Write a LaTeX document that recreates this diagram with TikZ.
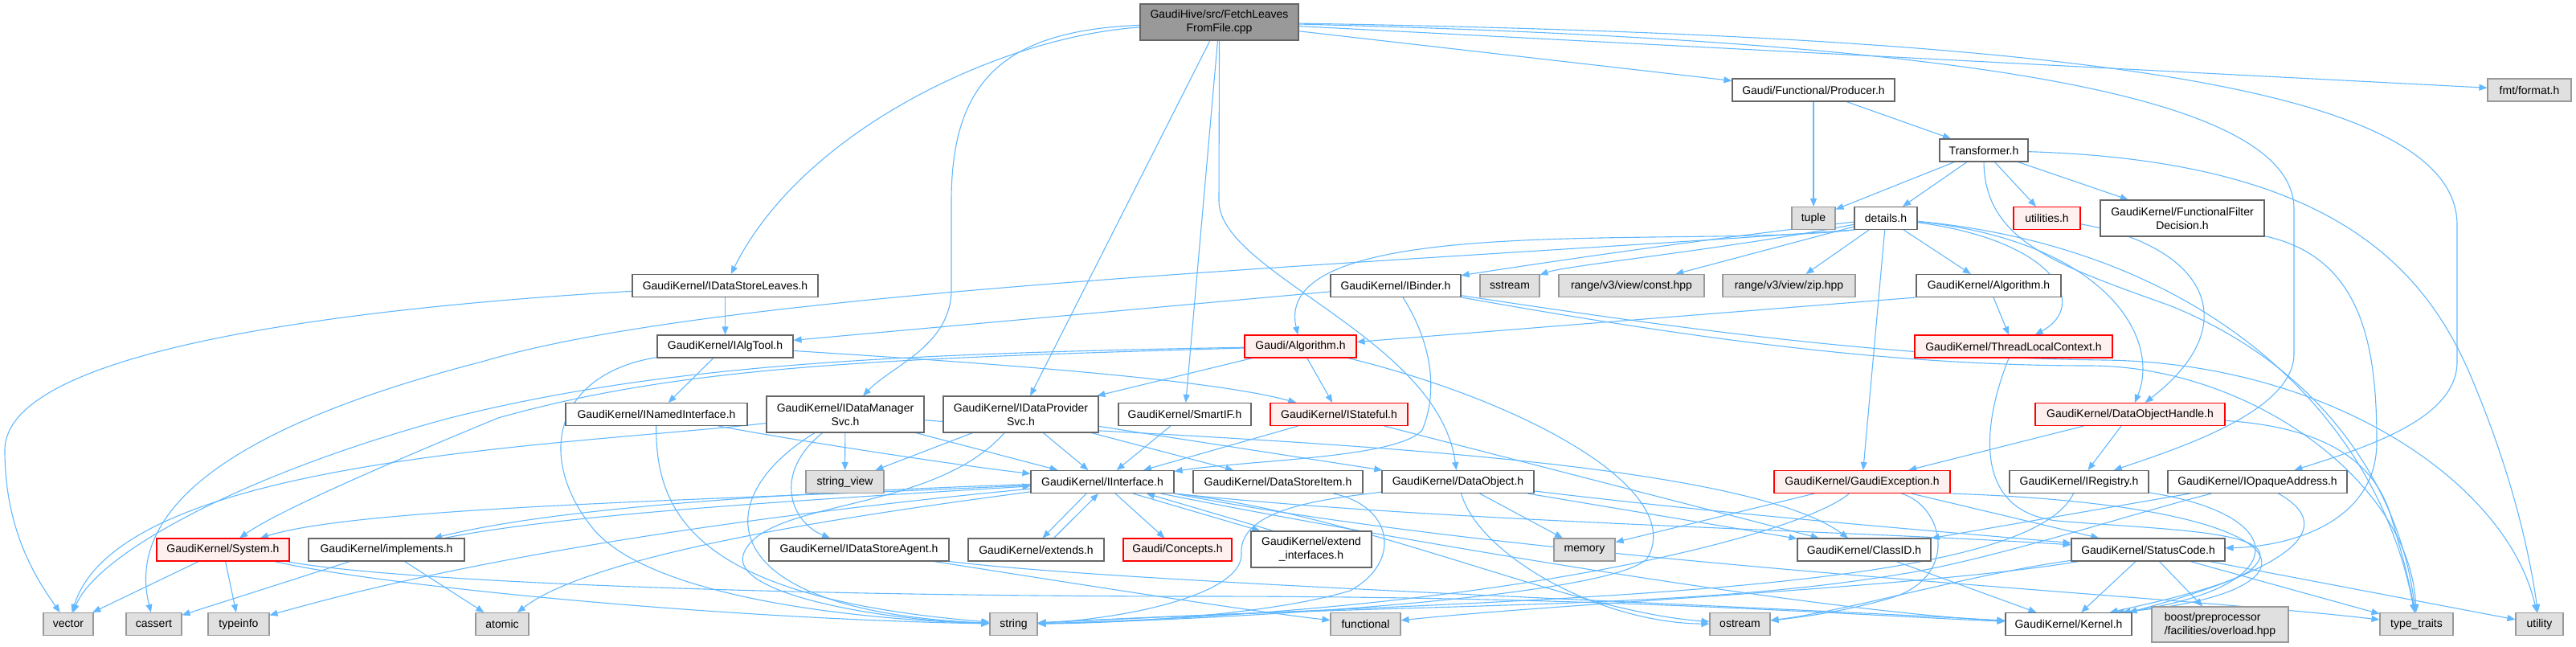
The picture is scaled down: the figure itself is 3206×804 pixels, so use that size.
\documentclass[tikz,border=0pt]{standalone}
\usepackage{fontspec}
\newfontfamily\dfont{Liberation Sans}
\usetikzlibrary{arrows.meta,calc}
\pgfdeclarelayer{background}
\pgfsetlayers{background,main}
\definecolor{edgeblue}{HTML}{63B8FF}
\definecolor{nodeborder}{HTML}{666666}
\definecolor{extborder}{HTML}{999999}
\definecolor{extfill}{HTML}{E0E0E0}
\definecolor{rootfill}{HTML}{999999}
\definecolor{truncfill}{HTML}{FFF0F0}
\definecolor{truncborder}{HTML}{FF0000}
\tikzset{
  nb/.style={draw=nodeborder, fill=white, line width=1.1pt, inner sep=0pt, minimum height=28pt, align=center, font=\dfont\fontsize{14}{17}\selectfont},
  ext/.style={nb, draw=extborder, fill=extfill},
  tr/.style={nb, draw=truncborder, fill=truncfill},
  rt/.style={nb, draw=nodeborder, fill=rootfill},
  two/.style={minimum height=45pt},
  edg/.style={draw=edgeblue, line width=1.1pt, -{Triangle[length=10pt,width=8pt]}},
}
\begin{document}
\begin{tikzpicture}[x=1pt,y=-1pt]
\useasboundingbox (0,0) rectangle (3206,804);
% ---------- nodes ----------
\node[rt,two,minimum width=197pt] (root) at (1517.5,27.5) {GaudiHive/src/FetchLeaves\\FromFile.cpp};
\node[nb,minimum width=202pt] (producer) at (2257,112) {Gaudi/Functional/Producer.h};
\node[ext,minimum width=104pt] (fmt) at (3148,112) {fmt/format.h};
\node[nb,minimum width=110pt] (transformer) at (2469,187) {Transformer.h};
\node[ext,minimum width=54pt] (tuple) at (2257,271.5) {tuple};
\node[nb,minimum width=78pt] (details) at (2347,271.5) {details.h};
\node[tr,minimum width=83pt] (utilities) at (2547.5,271.5) {utilities.h};
\node[nb,two,minimum width=204pt] (ffd) at (2716,271.5) {GaudiKernel/FunctionalFilter\\Decision.h};
\node[nb,minimum width=231pt] (idsleaves) at (902.5,355.5) {GaudiKernel/IDataStoreLeaves.h};
\node[nb,minimum width=162pt] (ibinder) at (1737,355.5) {GaudiKernel/IBinder.h};
\node[ext,minimum width=74pt] (sstream) at (1879,355.5) {sstream};
\node[ext,minimum width=181pt] (constHpp) at (2030.5,355.5) {range/v3/view/const.hpp};
\node[ext,minimum width=165pt] (zipHpp) at (2226.5,355.5) {range/v3/view/zip.hpp};
\node[nb,minimum width=180pt] (gkAlgorithm) at (2475,355.5) {GaudiKernel/Algorithm.h};
\node[nb,minimum width=169pt] (ialgtool) at (902.5,431) {GaudiKernel/IAlgTool.h};
\node[tr,minimum width=139pt] (gAlgorithm) at (1618.5,431) {Gaudi/Algorithm.h};
\node[tr,minimum width=246pt] (tlc) at (2506,431) {GaudiKernel/ThreadLocalContext.h};
\node[nb,minimum width=226pt] (inamed) at (817,515.5) {GaudiKernel/INamedInterface.h};
\node[nb,two,minimum width=196pt] (idms) at (1052,515.5) {GaudiKernel/IDataManager\\Svc.h};
\node[nb,two,minimum width=193pt] (idps) at (1270.5,515.5) {GaudiKernel/IDataProvider\\Svc.h};
\node[nb,minimum width=165pt] (smartif) at (1474.5,515.5) {GaudiKernel/SmartIF.h};
\node[tr,minimum width=171pt] (istateful) at (1666.5,515.5) {GaudiKernel/IStateful.h};
\node[tr,minimum width=236pt] (doh) at (2651,515.5) {GaudiKernel/DataObjectHandle.h};
\node[ext,minimum width=97pt] (stringview) at (1051.5,599.5) {string\_view};
\node[nb,minimum width=178pt] (iinterface) at (1372,599.5) {GaudiKernel/IInterface.h};
\node[nb,minimum width=211pt] (dsitem) at (1590.5,599.5) {GaudiKernel/DataStoreItem.h};
\node[nb,minimum width=189pt] (dataobject) at (1814.5,599.5) {GaudiKernel/DataObject.h};
\node[tr,minimum width=219pt] (gexception) at (2317.5,599.5) {GaudiKernel/GaudiException.h};
\node[nb,minimum width=173pt] (iregistry) at (2587.5,599.5) {GaudiKernel/IRegistry.h};
\node[nb,minimum width=223pt] (iopaque) at (2809.5,599.5) {GaudiKernel/IOpaqueAddress.h};
\node[tr,minimum width=165pt] (system) at (277.5,684) {GaudiKernel/System.h};
\node[nb,minimum width=194pt] (implements) at (481,684) {GaudiKernel/implements.h};
\node[nb,minimum width=224pt] (idsagent) at (1069,684) {GaudiKernel/IDataStoreAgent.h};
\node[nb,minimum width=169pt] (extends) at (1289.5,684) {GaudiKernel/extends.h};
\node[tr,minimum width=135pt] (concepts) at (1465.5,684) {Gaudi/Concepts.h};
\node[nb,two,minimum width=150pt] (extendif) at (1632,683.5) {GaudiKernel/extend\\\_interfaces.h};
\node[ext,minimum width=76pt] (memory) at (1972,684) {memory};
\node[nb,minimum width=166pt] (classid) at (2320,684) {GaudiKernel/ClassID.h};
\node[nb,minimum width=191pt] (statuscode) at (2673.5,684) {GaudiKernel/StatusCode.h};
\node[ext,minimum width=62pt] (vector) at (85,776.5) {vector};
\node[ext,minimum width=69pt] (cassert) at (191.5,776.5) {cassert};
\node[ext,minimum width=76pt] (typeinfo) at (297,776.5) {typeinfo};
\node[ext,minimum width=66pt] (atomic) at (625,776.5) {atomic};
\node[ext,minimum width=59pt] (string) at (1261.5,776.5) {string};
\node[ext,minimum width=87pt] (functional) at (1699.5,776.5) {functional};
\node[ext,minimum width=75pt] (ostream) at (2165.5,776.5) {ostream};
\node[nb,minimum width=157pt] (kernel) at (2574.5,776.5) {GaudiKernel/Kernel.h};
\node[ext,minimum width=170pt,minimum height=44pt,align=left] (boost) at (2763,777) {boost/preprocessor\\/facilities/overload.hpp};
\node[ext,minimum width=91pt] (typetraits) at (3007.5,776.5) {type\_traits};
\node[ext,minimum width=59pt] (utility) at (3160.5,776.5) {utility};
% ---------- edges ----------
\begin{pgfonlayer}{background}
% root
\draw[edg] (root) -- (producer);
\draw[edg] (root) -- (fmt);
\draw[edg] (root) .. controls (1250,45) and (1000,160) .. (idsleaves);
\draw[edg] (root) .. controls (1250,38) and (1184,100) .. (1184,250) -- (1184,360) .. controls (1184,430) and (1110,455) .. (idms);
\draw[edg] (root) -- (idps);
\draw[edg] (root) -- (smartif);
\draw[edg] (root.south) -- (1517,250) .. controls (1517,340) and (1790,420) .. (dataobject);
\draw[edg] (root) .. controls (2400,50) and (2855,110) .. (2855,260) -- (2855,440) .. controls (2855,510) and (2720,555) .. (iregistry);
\draw[edg] (root) .. controls (2600,45) and (3058,110) .. (3058,280) -- (3058,450) .. controls (3058,520) and (2950,555) .. (iopaque);
% producer / transformer
\draw[edg] (producer) -- (transformer);
\draw[edg] (producer) -- (tuple);
\draw[edg] (transformer) -- (tuple);
\draw[edg] (transformer) -- (details);
\draw[edg] (transformer) -- (utilities);
\draw[edg] (transformer) -- (ffd);
\draw[edg] (transformer) .. controls (2900,200) and (3020,330) .. (3080,480) .. controls (3130,600) and (3150,700) .. (utility);
\draw[edg] (transformer.south) .. controls (2470,300) and (2560,330) .. (2700,380) .. controls (2900,460) and (2990,620) .. (typetraits);
% details
\draw[edg] (details) .. controls (2100,300) and (1900,330) .. (ibinder);
\draw[edg] (details) .. controls (2150,310) and (1950,330) .. (sstream);
\draw[edg] (details) -- (constHpp);
\draw[edg] (details) -- (zipHpp);
\draw[edg] (details) -- (gkAlgorithm);
\draw[edg] (details.south west) .. controls (2100,310) and (1580,260) .. (gAlgorithm);
\draw[edg] (details.south west) .. controls (1700,330) and (900,360) .. (600,450) .. controls (250,540) and (160,650) .. (cassert);
\draw[edg] (details) .. controls (2560,300) and (2600,380) .. (tlc);
\draw[edg] (details) .. controls (2620,300) and (2690,420) .. (doh);
\draw[edg] (details) -- (gexception);
\draw[edg] (details) .. controls (2750,310) and (2960,520) .. (typetraits);
% utilities / ffd
\draw[edg] (utilities) .. controls (2740,305) and (2800,400) .. (doh);
\draw[edg] (ffd) .. controls (2940,320) and (2958,430) .. (2958,550) .. controls (2958,650) and (2850,680) .. (statuscode);
% idsleaves / ibinder / gkAlgorithm
\draw[edg] (idsleaves) -- (ialgtool);
\draw[edg] (idsleaves) .. controls (400,385) and (6,440) .. (6,560) .. controls (6,660) and (45,720) .. (vector);
\draw[edg] (ibinder) -- (ialgtool);
\draw[edg] (ibinder) .. controls (1790,440) and (1785,500) .. (1770,535) .. controls (1740,570) and (1560,572) .. (iinterface);
\draw[edg] (ibinder) .. controls (2100,420) and (2350,455) .. (2600,455) .. controls (2800,455) and (3000,600) .. (typetraits);
\draw[edg] (ibinder) .. controls (2100,410) and (2350,445) .. (2620,448) .. controls (2900,452) and (3120,600) .. (utility);
\draw[edg] (gkAlgorithm.south west) -- (gAlgorithm);
\draw[edg] (gkAlgorithm) -- (tlc);
% ialgtool / gAlgorithm
\draw[edg] (ialgtool) -- (inamed);
\draw[edg] (ialgtool) .. controls (1200,450) and (1500,470) .. (istateful);
\draw[edg] (ialgtool) .. controls (690,465) and (665,570) .. (740,660) .. controls (820,750) and (1100,772) .. (string);
\draw[edg] (gAlgorithm) -- (idps);
\draw[edg] (gAlgorithm) -- (istateful);
\draw[edg] (gAlgorithm) .. controls (1100,440) and (820,455) .. (560,520) .. controls (300,590) and (120,690) .. (vector);
\draw[edg] (gAlgorithm) .. controls (1100,446) and (850,455) .. (620,520) .. controls (450,590) and (340,640) .. (system);
\draw[edg] (gAlgorithm) .. controls (1900,500) and (2100,610) .. (2050,695) .. controls (2000,745) and (1500,772) .. (string);
\draw[edg] (tlc) .. controls (2470,520) and (2450,635) .. (2560,648) .. controls (2700,660) and (2860,660) .. (2800,710) .. controls (2770,730) and (2680,750) .. ($(kernel.north east)+(-28,0)$);
% inamed / idms / idps / smartif / istateful
\draw[edg] (inamed) .. controls (1000,550) and (1200,580) .. (iinterface);
\draw[edg] (inamed) .. controls (815,650) and (880,745) .. (string);
\draw[edg] (idms) -- (stringview);
\draw[edg] (idms) -- (iinterface);
\draw[edg] (idms) .. controls (960,590) and (985,650) .. (idsagent);
\draw[edg] (idms) .. controls (700,555) and (150,570) .. (vector);
\draw[edg] (idms) .. controls (880,620) and (880,760) .. (string);
\draw[edg] (idms) .. controls (1450,545) and (2150,560) .. (classid);
\draw[edg] (idps) -- (stringview);
\draw[edg] (idps) -- (iinterface);
\draw[edg] (idps) -- (dsitem);
\draw[edg] (idps) -- (dataobject);
\draw[edg] (idps) .. controls (1160,640) and (950,620) .. (925,690) .. controls (910,740) and (1100,772) .. (string);
\draw[edg] (smartif) -- (iinterface);
\draw[edg] (istateful) -- (iinterface);
\draw[edg] (istateful) -- (classid);
% doh
\draw[edg] (doh) -- (iregistry);
\draw[edg] (doh) -- (gexception);
\draw[edg] (doh) .. controls (2870,530) and (2950,560) .. (2975,640) .. controls (2990,690) and (3000,730) .. (typetraits);
% iinterface
\draw[edg] (iinterface) .. controls (900,622) and (450,630) .. (system);
\draw[edg] (iinterface) .. controls (1000,612) and (700,630) .. (implements);
\draw[edg] (implements) .. controls (700,640) and (1000,622) .. (iinterface);
\draw[edg] (iinterface) .. controls (950,640) and (600,690) .. (typeinfo);
\draw[edg] (iinterface) .. controls (1150,630) and (750,680) .. (atomic);
\draw[edg] ($(iinterface.south)+(-20,0)$) -- ($(extends.north)+(8,0)$);
\draw[edg] ($(extends.north)+(22,0)$) -- ($(iinterface.south)+(-5,0)$);
\draw[edg] (iinterface) -- (concepts);
\draw[edg] ($(iinterface.south)+(38,0)$) -- ($(extendif.north west)+(12,0)$);
\draw[edg] ($(extendif.north west)+(28,0)$) -- ($(iinterface.south)+(55,0)$);
\draw[edg] (iinterface) .. controls (1700,665) and (2250,760) .. (kernel);
\draw[edg] (iinterface.south east) .. controls (1800,650) and (2300,660) .. (statuscode);
\draw[edg] (iinterface.south east) .. controls (1700,640) and (1950,760) .. (ostream);
\draw[edg] (iinterface.south east) .. controls (1900,700) and (2700,740) .. (typetraits);
% implements / system
\draw[edg] (implements) -- (atomic);
\draw[edg] (implements) -- (cassert);
\draw[edg] (system) -- (vector);
\draw[edg] (system) -- (typeinfo);
\draw[edg] (system) .. controls (480,730) and (900,770) .. (string);
\draw[edg] (system) .. controls (500,725) and (1000,742) .. (1500,742) .. controls (2000,742) and (2300,765) .. (kernel);
% idsagent / dsitem / dataobject
\draw[edg] (idsagent) .. controls (1300,720) and (1550,760) .. (functional);
\draw[edg] (idsagent.south east) .. controls (1400,725) and (2100,750) .. (kernel);
\draw[edg] (dsitem) .. controls (1735,630) and (1745,700) .. (1680,735) .. controls (1580,765) and (1400,775) .. (string);
\draw[edg] (dataobject) -- (memory);
\draw[edg] (dataobject) -- (classid);
\draw[edg] (dataobject) .. controls (1840,690) and (1990,775) .. (ostream);
\draw[edg] (dataobject) .. controls (2150,640) and (2400,660) .. (statuscode);
\draw[edg] (dataobject) .. controls (1660,620) and (1540,630) .. (1545,690) .. controls (1545,740) and (1400,770) .. (string);
% gexception
\draw[edg] (gexception) -- (memory);
\draw[edg] (gexception) -- (statuscode);
\draw[edg] (gexception) .. controls (2250,660) and (1900,760) .. (string);
\draw[edg] (gexception) .. controls (2420,630) and (2440,720) .. (2350,745) .. controls (2290,762) and (2240,768) .. (ostream);
\draw[edg] (gexception.south east) .. controls (2900,630) and (2900,740) .. ($(kernel.north east)+(-20,0)$);
% iregistry / iopaque
\draw[edg] (iregistry) .. controls (2520,740) and (1900,745) .. (string);
\draw[edg] (iregistry) .. controls (2850,640) and (2860,730) .. ($(kernel.north east)+(-12,0)$);
\draw[edg] (iopaque) -- (classid);
\draw[edg] (iopaque) .. controls (2650,640) and (2500,690) .. (2380,712) .. controls (2100,760) and (1800,748) .. (string);
\draw[edg] (iopaque) .. controls (2900,650) and (2880,700) .. ($(kernel.north east)+(-4,0)$);
% classid / statuscode
\draw[edg] (classid) -- (kernel);
\draw[edg] (statuscode) -- (kernel);
\draw[edg] (statuscode) -- (boost);
\draw[edg] (statuscode) -- (typetraits);
\draw[edg] (statuscode) -- (utility);
\draw[edg] (statuscode) .. controls (2450,715) and (2300,760) .. (ostream);
\draw[edg] (statuscode) .. controls (2400,730) and (1950,750) .. (functional);
\end{pgfonlayer}
\end{tikzpicture}
\end{document}
